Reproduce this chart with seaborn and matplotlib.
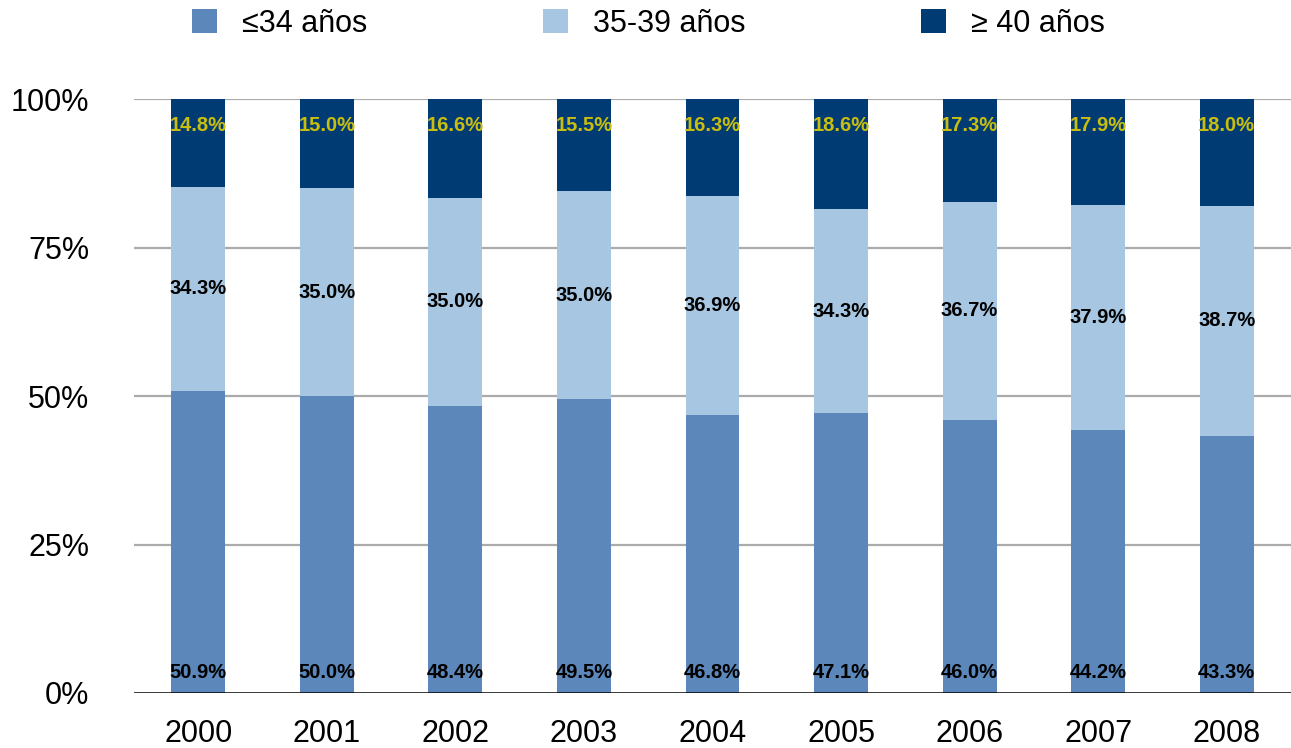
import numpy as np
import pandas as pd
import matplotlib
matplotlib.use("Agg")
import matplotlib.pyplot as plt
from matplotlib.patches import Patch
import seaborn as sns

years = ["2000", "2001", "2002", "2003", "2004", "2005", "2006", "2007", "2008"]
under_35 = [50.9, 50.0, 48.4, 49.5, 46.8, 47.1, 46.0, 44.2, 43.3]
age_35_39 = [34.3, 35.0, 35.0, 35.0, 36.9, 34.3, 36.7, 37.9, 38.7]
over_40 = [14.8, 15.0, 16.6, 15.5, 16.3, 18.6, 17.3, 17.9, 18.0]
series_names = ["≤34 años", "35-39 años", "≥ 40 años"]
y_ticks = [0, 25, 50, 75, 100]
y_tick_labels = ["0%", "25%", "50%", "75%", "100%"]

colors = ["#5B87BA", "#A6C6E1", "#003B74"]
label_colors = ["black", "black", "#C9BE10"]

sns.set_theme(style="white")
plt.rcParams["font.family"] = ["Liberation Sans", "DejaVu Sans"]

df = pd.DataFrame({"year": years, "a": under_35, "b": age_35_39, "c": over_40})
df["cum_a"] = df["a"]
df["cum_b"] = df["a"] + df["b"]
df["cum_c"] = df["a"] + df["b"] + df["c"]

fig = plt.figure(figsize=(12.91, 7.48), dpi=100)
ax = fig.add_axes([134 / 1291, 55 / 748, 1 - 134 / 1291, 594 / 748])

# gridlines behind bars
for t in y_ticks[1:]:
    ax.axhline(t, color="#ABABAB", lw=1.6, zorder=0)

# stacked bars: draw cumulative totals from the top segment downwards
for col, c in zip(["cum_c", "cum_b", "cum_a"], colors[::-1]):
    sns.barplot(data=df, x="year", y=col, color=c, width=0.42,
                saturation=1, linewidth=0, edgecolor="none", ax=ax, zorder=2)

ax.axhline(0, color="black", lw=1.8, zorder=3)

# value labels
x = np.arange(len(years))
for i in x:
    ax.text(i, 3.5, f"{under_35[i]:.1f}%", ha="center", va="center",
            fontsize=14.5, fontweight="bold", color=label_colors[0], zorder=4)
    mid = under_35[i] + age_35_39[i] / 2
    ax.text(i, mid, f"{age_35_39[i]:.1f}%", ha="center", va="center",
            fontsize=14.5, fontweight="bold", color=label_colors[1], zorder=4)
    ax.text(i, 95.6, f"{over_40[i]:.1f}%", ha="center", va="center",
            fontsize=14.5, fontweight="bold", color=label_colors[2], zorder=4)

ax.set_xlim(-0.5, len(years) - 0.5)
ax.set_ylim(0, 100)
ax.set_yticks(y_ticks)
ax.set_yticklabels(y_tick_labels)
ax.set_xlabel("")
ax.set_ylabel("")
ax.tick_params(axis="y", length=0, pad=32, labelsize=22, labelcolor="black")
ax.tick_params(axis="x", length=0, pad=18.5, labelsize=22, labelcolor="black")
for s in ax.spines.values():
    s.set_visible(False)

handles = [Patch(facecolor=c, edgecolor="none") for c in colors]
fig.legend(handles, series_names, loc="center left",
           bbox_to_anchor=(192 / 1291, 1 - 23.5 / 748), ncol=3, frameon=False,
           fontsize=22, handlelength=0.82, handleheight=0.82,
           handletextpad=0.82, columnspacing=5.75, borderpad=0,
           borderaxespad=0, labelcolor="black")

fig.savefig("out.png", dpi=100)
